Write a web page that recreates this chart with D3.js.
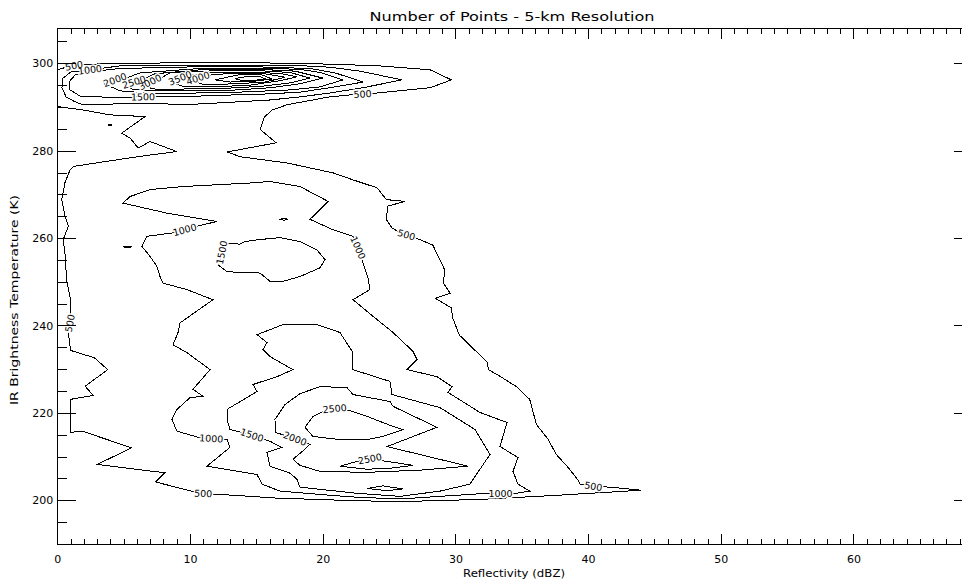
<!DOCTYPE html>
<html>
<head>
<meta charset="utf-8">
<script src="https://cdn.jsdelivr.net/npm/d3@7"></script>
<style>
html, body { margin: 0; padding: 0; background: #fff; }
svg { display: block; }
text { font-family: "DejaVu Sans", sans-serif; fill: #000; }
</style>
</head>
<body>
<svg id="chart" width="962" height="583"></svg>
<script>
// axis ticks
var xTicks = [0, 10, 20, 30, 40, 50, 60];
var yTicks = [200, 220, 240, 260, 280, 300];

// contour lines, [reflectivity dBZ, IR temperature K]
var c500 = [[0.0,298.5],[0.8,299.2],[1.7,299.7],[4.7,300.0],[10.0,300.1],[15.3,300.1],[20.5,299.8],[24.3,299.4],[28.1,298.5],[29.7,296.2],[28.1,294.4],[23.8,293.1],[22.2,292.8],[20.5,292.3],[17.3,290.5],[16.2,289.3],[15.6,287.7],[15.4,285.9],[15.3,284.8],[16.5,281.8],[12.8,279.7],[13.8,278.6],[17.3,277.2],[20.8,274.9],[22.3,273.3],[24.1,271.5],[24.8,268.8],[26.2,268.4],[24.9,267.3],[24.8,264.2],[25.2,262.4],[25.8,261.2],[26.8,260.3],[28.3,258.4],[29.2,252.7],[29.1,249.7],[29.6,247.4],[28.5,246.2],[29.7,244.0],[29.8,241.7],[30.3,237.8],[32.4,231.6],[32.5,229.9],[33.4,228.3],[34.6,226.0],[35.6,223.1],[36.1,217.4],[37.0,213.9],[37.6,210.5],[38.5,207.5],[39.2,204.8],[39.4,203.7],[40.4,203.2],[41.7,203.0],[44.0,202.3],[37.4,201.1],[31.85,200.2],[25.82,199.7],[22.59,199.9],[20.55,200.1],[16.56,200.5],[12.0,201.4],[10.8,201.6],[10.1,202.1],[7.4,204.2],[8.1,206.3],[3.0,208.2],[5.6,212.0],[2.0,215.7],[1.0,215.6],[1.0,223.1],[2.7,224.0],[2.1,226.1],[3.8,229.9],[2.8,232.6],[1.0,234.3],[0.8,239.0],[1.0,242.0],[1.0,246.0],[0.7,250.4],[0.6,255.9],[0.45,259.7],[0.83,262.7],[0.58,265.0],[0.33,268.8],[0.58,272.7],[0.96,275.6],[1.21,276.4],[4.48,277.9],[6.23,278.7],[9.0,279.8],[6.99,282.1],[6.10,280.6],[5.48,282.9],[4.85,284.0],[6.61,287.8],[3.97,288.2],[1.96,289.3],[0.0,290.1]];
var dot500 = [[3.85,285.9],[3.97,286.1],[4.1,285.9],[3.97,285.7]];

var top1000 = [[1.11,298.2],[0.43,296.6],[0.35,294.4],[0.66,292.3],[1.33,291.2],[1.94,290.5],[6.99,290.9],[9.47,290.5],[12.03,290.9],[16.03,291.6],[18.29,292.3],[20.55,293.2],[23.04,294.4],[25.97,296.2],[22.81,298.2],[20.55,299.1],[17.99,299.5],[10.75,299.6],[4.73,299.4],[3.22,298.8],[2.46,298.5],[1.71,298.2]];
var top1500 = [[1.33,297.3],[0.88,295.7],[0.96,293.9],[1.71,292.5],[3.97,292.2],[6.46,292.3],[7.74,292.3],[10.75,292.5],[13.77,292.8],[16.03,293.0],[18.29,293.4],[20.55,294.4],[23.04,295.7],[20.93,297.8],[19.04,298.8],[15.28,299.16],[10.0,299.16],[4.73,298.8],[2.84,298.2]];
var top2000 = [[3.52,295.3],[4.35,296.2],[5.18,296.6],[6.23,297.8],[10.75,298.8],[15.28,298.9],[18.29,298.6],[19.80,297.9],[21.53,296.2],[19.80,294.6],[17.54,293.9],[13.77,293.4],[10.75,293.2],[6.99,293.1],[4.73,293.7]];
var top2500 = [[5.03,295.0],[5.78,295.7],[6.38,296.2],[7.36,297.6],[10.75,298.5],[15.28,298.6],[17.91,298.2],[20.02,296.6],[18.29,295.3],[16.03,294.4],[13.01,293.8],[10.0,293.7],[6.99,293.7],[5.63,294.1]];
var top3000 = [[6.38,294.8],[6.99,295.7],[7.59,296.2],[8.49,297.8],[11.51,298.24],[15.28,298.29],[17.54,297.9],[19.04,296.6],[17.54,295.5],[15.28,294.7],[12.26,294.2],[9.25,294.1],[7.36,294.1]];
var top3500 = [[8.49,295.7],[9.25,296.6],[10.0,297.3],[11.51,297.9],[14.52,297.97],[16.78,297.67],[18.06,296.9],[16.78,296.0],[14.52,295.0],[11.88,294.6],[9.62,294.6]];
var top4000 = [[10.0,296.0],[10.6,296.6],[11.51,297.3],[13.01,297.67],[15.65,297.6],[17.16,296.8],[15.65,295.7],[13.39,295.3],[11.13,295.1]];
var top4500 = [[11.88,296.2],[13.77,297.42],[15.43,297.33],[16.18,296.4],[14.9,295.9],[13.01,295.7]];
var top5000 = [[13.39,296.5],[14.37,297.0],[15.28,296.9],[15.73,296.4],[14.9,296.1],[13.92,296.0]];

var body1000 = [[4.95,268.0],[5.48,269.5],[6.99,271.1],[9.47,271.8],[12.03,272.2],[14.52,272.6],[16.03,272.95],[18.29,271.8],[20.40,268.4],[19.80,266.5],[19.04,264.3],[20.77,261.9],[22.28,260.4],[22.66,257.8],[23.04,254.3],[23.41,250.9],[23.56,248.2],[22.28,245.9],[23.79,242.1],[25.30,238.4],[26.80,234.1],[27.11,232.2],[26.35,229.9],[28.61,228.3],[29.74,226.0],[29.44,224.7],[31.85,220.1],[33.89,217.8],[33.36,212.3],[34.72,209.8],[34.34,206.6],[34.72,203.7],[35.62,202.1],[34.34,201.5],[33.36,201.5],[31.85,201.5],[28.84,200.9],[25.82,200.3],[22.59,200.7],[20.77,201.1],[16.78,202.1],[15.43,203.7],[15.05,205.9],[11.28,207.8],[13.01,212.1],[12.79,213.9],[10.75,214.3],[9.02,215.8],[8.64,218.5],[9.02,220.8],[10.0,223.5],[10.98,223.8],[10.23,225.4],[11.51,229.9],[9.77,233.8],[8.72,235.6],[9.10,238.4],[9.25,240.6],[11.73,245.9],[9.77,248.2],[7.97,249.7],[7.74,251.2],[7.51,253.5],[6.99,255.8],[6.38,258.1],[6.76,260.4],[8.72,261.2],[10.53,262.7],[12.03,263.8],[8.27,265.7]];
var dash1000 = [[4.95,258.0],[5.3,258.15],[5.65,258.0],[5.3,257.85]];

var mid1500 = [[13.77,258.6],[12.64,258.9],[12.41,256.9],[12.26,254.6],[12.11,253.9],[12.79,252.3],[14.14,252.1],[15.28,252.0],[16.03,250.1],[17.01,250.1],[18.29,251.2],[19.80,253.2],[20.17,255.1],[19.57,257.3],[18.29,259.2],[16.78,260.1],[15.05,259.6],[14.14,259.2]];
var dash1500 = [[16.75,264.3],[17.1,264.5],[17.4,264.3],[17.1,264.1]];
var low1500 = [[15.05,237.9],[17.01,240.2],[19.57,240.2],[21.30,238.4],[22.28,233.8],[22.28,229.9],[25.07,227.2],[25.22,224.2],[28.84,221.2],[31.48,216.2],[32.61,210.5],[31.85,207.1],[31.10,203.7],[28.84,202.1],[25.82,200.9],[22.59,201.6],[18.29,203.0],[18.06,204.8],[17.54,206.2],[16.03,207.8],[15.80,211.0],[16.93,212.1],[16.03,213.5],[14.67,214.9],[13.01,216.2],[12.79,218.5],[12.79,220.8],[15.05,224.9],[14.75,226.5],[16.56,228.3],[17.76,229.9],[16.03,232.9],[15.50,234.5],[15.80,236.1]];

var low2000 = [[19.80,226.0],[21.83,225.8],[22.28,224.2],[25.07,222.6],[25.30,221.5],[28.61,216.7],[24.85,212.3],[30.95,207.8],[27.33,206.9],[23.34,206.4],[19.80,206.6],[18.29,208.0],[17.76,209.4],[18.67,211.7],[19.04,212.8],[17.91,214.1],[16.48,215.5],[16.40,218.5],[17.16,221.9],[18.29,224.4]];
var lens2000 = [[23.34,202.7],[24.54,203.3],[26.05,202.6],[24.85,202.2]];
var upper2500 = [[18.67,216.7],[19.27,219.2],[20.32,220.8],[21.30,221.1],[22.28,220.3],[23.34,219.2],[25.30,216.9],[26.05,216.2],[24.54,214.6],[23.34,213.9],[21.30,213.9],[19.27,214.6]];
var lower2500 = [[21.30,207.8],[22.59,208.9],[23.56,209.5],[24.85,208.9],[26.80,208.0],[25.30,207.4],[23.34,207.1]];

// contour labels: level, x, y
var labelPts = [
  [500, 1.26, 299.45], [500, 23.0, 292.95], [500, 26.3, 260.75], [500, 0.95, 240.5], [500, 11.0, 201.55], [500, 40.4, 203.2],
  [1000, 2.46, 298.5], [1000, 9.6, 261.9], [1000, 22.66, 257.8], [1000, 11.6, 214.13], [1000, 33.4, 201.5],
  [1500, 6.46, 292.3], [1500, 12.4, 256.7], [1500, 14.67, 214.9],
  [2000, 4.35, 296.2], [2000, 17.91, 214.1],
  [2500, 5.78, 295.7], [2500, 20.9, 220.98], [2500, 23.56, 209.5],
  [3000, 6.99, 295.7], [3500, 9.25, 296.6], [4000, 10.6, 296.6]
];

var contours = [
  {level: 500, pts: c500, closed: false},
  {level: 500, pts: dot500, closed: true},
  {level: 1000, pts: top1000, closed: true},
  {level: 1500, pts: top1500, closed: true},
  {level: 2000, pts: top2000, closed: true},
  {level: 2500, pts: top2500, closed: true},
  {level: 3000, pts: top3000, closed: true},
  {level: 3500, pts: top3500, closed: true},
  {level: 4000, pts: top4000, closed: true},
  {level: 4500, pts: top4500, closed: true},
  {level: 5000, pts: top5000, closed: true},
  {level: 1000, pts: body1000, closed: true},
  {level: 1000, pts: dash1000, closed: true},
  {level: 1500, pts: mid1500, closed: true},
  {level: 1500, pts: dash1500, closed: true},
  {level: 1500, pts: low1500, closed: true},
  {level: 2000, pts: low2000, closed: true},
  {level: 2000, pts: lens2000, closed: true},
  {level: 2500, pts: upper2500, closed: true},
  {level: 2500, pts: lower2500, closed: true}
];

var svg = d3.select("#chart");
var x = d3.scaleLinear().domain([0, 69]).range([57.3, 972.9]);
var y = d3.scaleLinear().domain([190, 308]).range([544, 28.3]);

svg.append("rect").attr("width", 962).attr("height", 583).attr("fill", "#fff");

var openLine = d3.line().x(function(d) { return x(d[0]); }).y(function(d) { return y(d[1]); });
var closedLine = d3.line().x(function(d) { return x(d[0]); }).y(function(d) { return y(d[1]); }).curve(d3.curveLinearClosed);

svg.append("g").selectAll("path").data(contours).enter().append("path")
  .attr("d", function(c) { return c.closed ? closedLine(c.pts) : openLine(c.pts); })
  .attr("fill", "none").attr("stroke", "#000").attr("stroke-width", 1)
  .attr("shape-rendering", "crispEdges");

// angle of the contour under each label
function labelAngle(lv, px, py) {
  var best = Infinity, ang = 0;
  contours.forEach(function(c) {
    if (c.level !== lv) return;
    var p = c.pts.map(function(d) { return [x(d[0]), y(d[1])]; });
    if (c.closed) p.push(p[0]);
    for (var i = 0; i < p.length - 1; i++) {
      var ax = p[i][0], ay = p[i][1], bx = p[i+1][0], by = p[i+1][1];
      var dx = bx - ax, dy = by - ay, l2 = dx*dx + dy*dy || 1;
      var t = Math.max(0, Math.min(1, ((px-ax)*dx + (py-ay)*dy) / l2));
      var ex = ax + t*dx - px, ey = ay + t*dy - py, dd = ex*ex + ey*ey;
      if (dd < best) { best = dd; ang = Math.atan2(dy, dx) * 180 / Math.PI; }
    }
  });
  if (ang > 90) ang -= 180;
  if (ang <= -90) ang += 180;
  return ang;
}

function labelPos(d) {
  var px = x(d[1]), py = y(d[2]);
  return "translate(" + px + "," + py + ") rotate(" + labelAngle(d[0], px, py) + ")";
}

var labelG = svg.append("g");
labelG.selectAll("text.halo").data(labelPts).enter().append("text")
  .attr("class", "halo").attr("transform", labelPos)
  .attr("text-anchor", "middle").attr("dy", "0.36em").attr("font-size", "9.5px")
  .attr("fill", "#fff").attr("stroke", "#fff").attr("stroke-width", 3)
  .text(function(d) { return d[0]; });
labelG.selectAll("text.lab").data(labelPts).enter().append("text")
  .attr("class", "lab").attr("transform", labelPos)
  .attr("text-anchor", "middle").attr("dy", "0.36em").attr("font-size", "9.5px")
  .attr("fill", "#000")
  .text(function(d) { return d[0]; });

// axes
var minorX = d3.range(0, 70, 1).filter(function(v) { return v % 10; });
var minorY = d3.range(190, 309, 5).filter(function(v) { return v % 20; });

function styleAxis(g) {
  g.selectAll("path, line").attr("stroke", "#000").attr("shape-rendering", "crispEdges");
  g.selectAll("text").attr("font-family", "DejaVu Sans").attr("font-size", "11px").attr("fill", "#000");
}

svg.append("g").attr("transform", "translate(0,544)")
  .call(d3.axisBottom(x).tickValues(xTicks).tickSize(-10.5).tickSizeOuter(0).tickPadding(11).tickFormat(d3.format("d")))
  .call(styleAxis);
svg.append("g").attr("transform", "translate(0,544)")
  .call(d3.axisBottom(x).tickValues(minorX).tickSize(-5.5).tickSizeOuter(0).tickFormat(""))
  .call(styleAxis);
svg.append("g").attr("transform", "translate(0,28.3)")
  .call(d3.axisTop(x).tickValues(xTicks).tickSize(-10.5).tickSizeOuter(0).tickFormat(""))
  .call(styleAxis);
svg.append("g").attr("transform", "translate(0,28.3)")
  .call(d3.axisTop(x).tickValues(minorX).tickSize(-5.5).tickSizeOuter(0).tickFormat(""))
  .call(styleAxis);
svg.append("g").attr("transform", "translate(57.3,0)")
  .call(d3.axisLeft(y).tickValues(yTicks).tickSize(-18.6).tickSizeOuter(0).tickPadding(4).tickFormat(d3.format("d")))
  .call(styleAxis);
svg.append("g").attr("transform", "translate(57.3,0)")
  .call(d3.axisLeft(y).tickValues(minorY).tickSize(-10).tickSizeOuter(0).tickFormat(""))
  .call(styleAxis);
svg.append("g").attr("transform", "translate(972.9,0)")
  .call(d3.axisRight(y).tickValues(yTicks).tickSize(-18.6).tickSizeOuter(0).tickFormat(""))
  .call(styleAxis);
svg.append("g").attr("transform", "translate(972.9,0)")
  .call(d3.axisRight(y).tickValues(minorY).tickSize(-10).tickSizeOuter(0).tickFormat(""))
  .call(styleAxis);

// titles
svg.append("text").attr("x", 512).attr("y", 21).attr("text-anchor", "middle")
  .attr("font-size", "12px").attr("textLength", 285).attr("lengthAdjust", "spacingAndGlyphs")
  .text("Number of Points - 5-km Resolution");
svg.append("text").attr("x", 514).attr("y", 577).attr("text-anchor", "middle")
  .attr("font-size", "10px").attr("textLength", 102).attr("lengthAdjust", "spacingAndGlyphs")
  .text("Reflectivity (dBZ)");
svg.append("text").attr("transform", "translate(17.5,300) rotate(-90)").attr("text-anchor", "middle")
  .attr("font-size", "10.5px").attr("textLength", 210).attr("lengthAdjust", "spacingAndGlyphs")
  .text("IR Brightness Temperature (K)");
</script>
</body>
</html>
